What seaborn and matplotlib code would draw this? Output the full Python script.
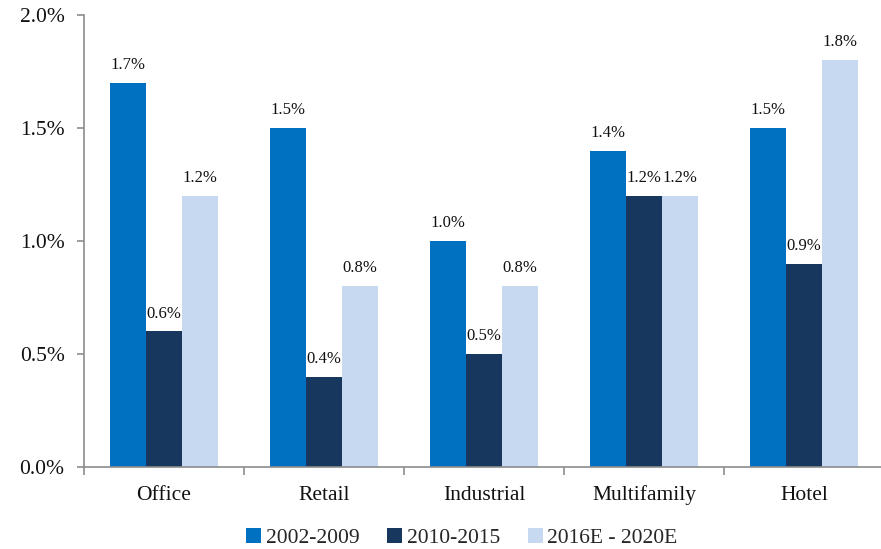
import matplotlib
matplotlib.use("Agg")
import matplotlib.pyplot as plt
import seaborn as sns
import pandas as pd
from matplotlib.ticker import FuncFormatter, MultipleLocator, FixedLocator

categories = ["Office", "Retail", "Industrial", "Multifamily", "Hotel"]
series = ["2002-2009", "2010-2015", "2016E - 2020E"]
v_2002_2009 = [1.7, 1.5, 1.0, 1.4, 1.5]
v_2010_2015 = [0.6, 0.4, 0.5, 1.2, 0.9]
v_2016_2020 = [1.2, 0.8, 0.8, 1.2, 1.8]
colors = ["#0070C0", "#17375E", "#C6D9F1"]

rows = []
for s, vals in zip(series, [v_2002_2009, v_2010_2015, v_2016_2020]):
    for c, v in zip(categories, vals):
        rows.append({"Category": c, "Series": s, "Value": v})
df = pd.DataFrame(rows)

sns.set_theme(style="white")
plt.rcParams["font.family"] = ["Liberation Serif", "DejaVu Serif"]

fig = plt.figure(figsize=(8.81, 5.49), dpi=100)
ax = fig.add_axes([84/881, 1-467/549, 800/881, (467-15)/549])

sns.barplot(data=df, x="Category", y="Value", hue="Series", order=categories,
            hue_order=series, palette=colors, width=0.675, gap=0, linewidth=0,
            saturation=1, ax=ax, legend=True)

ax.set_xlim(-0.5, 4.5)
ax.set_ylim(0, 2.0)
ax.yaxis.set_major_locator(MultipleLocator(0.5))
ax.yaxis.set_major_formatter(FuncFormatter(lambda v, p: f"{v:.1f}%"))
ax.set_xlabel("")
ax.set_ylabel("")

for side in ["top", "right"]:
    ax.spines[side].set_visible(False)
for side in ["left", "bottom"]:
    ax.spines[side].set_color("#8C8C8C")
    ax.spines[side].set_linewidth(1.2)

ax.tick_params(axis="y", which="major", direction="out", length=5, width=1.2,
               color="#8C8C8C", labelsize=15.5, pad=9, left=True)
ax.tick_params(axis="x", which="major", length=0, labelsize=15.5, pad=24)
ax.xaxis.set_minor_locator(FixedLocator([-0.5, 0.5, 1.5, 2.5, 3.5, 4.5]))
ax.tick_params(axis="x", which="minor", direction="out", length=6, width=1.2,
               color="#8C8C8C", bottom=True)
for lbl in ax.get_yticklabels() + ax.get_xticklabels():
    lbl.set_color("#111111")
for lbl in ax.get_xticklabels():
    lbl.set_verticalalignment("baseline")

for cont in ax.containers:
    for bar in cont:
        h = bar.get_height()
        ax.annotate(f"{h:.1f}%", (bar.get_x() + bar.get_width()/2, h),
                    xytext=(0, 7), textcoords="offset points",
                    ha="center", va="bottom", fontsize=12, color="#111111",
                    annotation_clip=False)

leg = ax.get_legend()
handles = leg.legend_handles
leg.remove()
fig.legend(handles, series, loc="center", bbox_to_anchor=(462/881, 1-538/549),
           ncol=3, frameon=False, fontsize=15.5, handlelength=0.7,
           handleheight=0.7, handletextpad=0.2, columnspacing=1.3)

fig.savefig("out.png", dpi=100)
